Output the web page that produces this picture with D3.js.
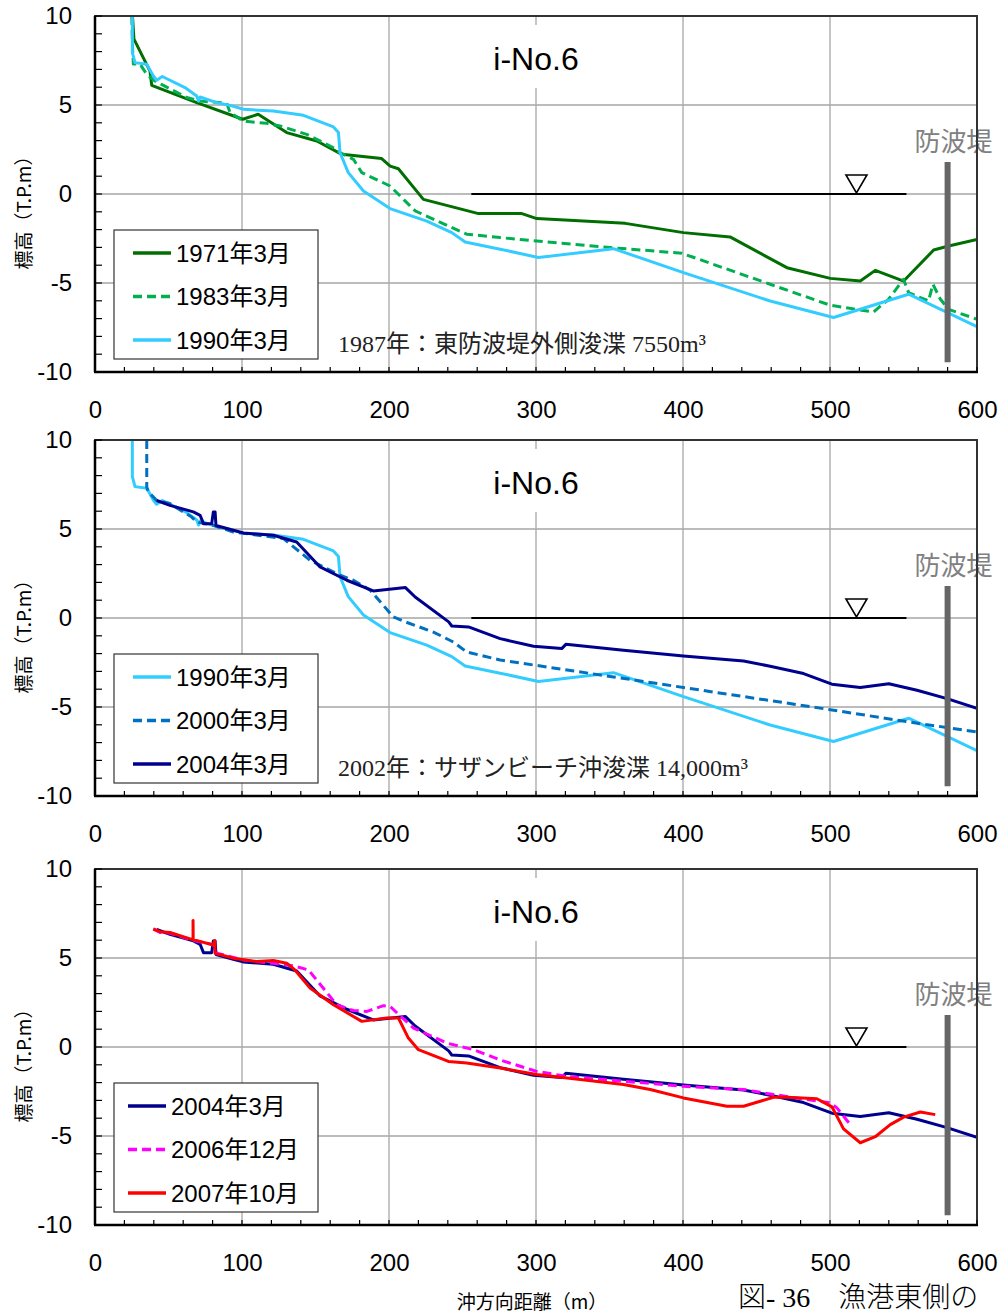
<!DOCTYPE html>
<html>
<head>
<meta charset="utf-8">
<script src="https://d3js.org/d3.v7.min.js"></script>
<style>
  body { margin: 0; background: #fff; }
  svg { display: block; }
</style>
</head>
<body>
<svg id="svg" width="999" height="1313"></svg>
<script>
// ---- data (distance m, elevation T.P.m) ----
const s1971 = [[25.5,10],[26.5,8.7],[37.4,6.9],[38.6,6.1],[69.2,5.13],[100.5,4.2],[111,4.48],[130.4,3.45],[150.9,2.98],[167.9,2.23],[195,1.99],[200.8,1.57],[206.4,1.42],[223.4,-0.3],[260.9,-1.1],[290.4,-1.1],[300.5,-1.38],[360.7,-1.65],[400.3,-2.17],[432,-2.41],[470.7,-4.14],[500.2,-4.74],[520.6,-4.89],[530.8,-4.29],[550.1,-4.89],[570.5,-3.15],[580.7,-2.92],[600,-2.55]];
const s1983 = [[25,10],[25.6,8.1],[26.1,7.3],[30.6,7.3],[35.2,6.72],[40.8,6.35],[46.5,6.1],[62.4,5.42],[71.5,5.22],[89.6,5.1],[91.9,4.57],[100.9,4.1],[116.8,3.97],[125.9,3.82],[144,3.35],[162.2,2.6],[166.7,2.32],[175.8,1.95],[181.5,1.2],[200.7,0.45],[217.8,-0.95],[252.9,-2.26],[275.6,-2.45],[350.5,-3.01],[399.2,-3.33],[459.3,-5.07],[500.2,-6.25],[529.6,-6.63],[540,-5.9],[550,-4.79],[553.5,-5.54],[567,-6.01],[570,-5.07],[575,-5.9],[580.7,-6.48],[600,-7.04]];
const s1990 = [[25.4,10],[25.4,7.94],[27.2,7.38],[35.2,7.29],[39.7,6.63],[41.9,6.39],[45.8,6.6],[61.2,5.98],[69.2,5.51],[70.4,5.22],[71.5,5.45],[82.8,5.13],[91.9,4.98],[101,4.76],[121.3,4.66],[141.8,4.42],[162.2,3.77],[165.6,3.45],[166.7,2.32],[172.3,1.2],[182.6,0.17],[200.7,-0.82],[225.7,-1.52],[242.7,-2.17],[251.8,-2.7],[275.6,-3.1],[301.7,-3.57],[352.7,-3.07],[400.3,-4.42],[459.3,-6.01],[502.4,-6.94],[553.5,-5.63],[600,-7.45]];
const s2000 = [[35.2,10],[35.2,7.36],[36.3,7.08],[41.9,6.61],[51,6.43],[65.8,5.67],[69.2,5.39],[80.5,5.21],[94.1,4.83],[116.8,4.59],[128.2,4.46],[146.3,3.24],[166.7,2.4],[175.8,2.12],[187.2,1.56],[203,0.06],[211.2,-0.22],[230.2,-0.79],[243.8,-1.35],[252.9,-1.91],[275.6,-2.36],[352.7,-3.31],[500.2,-5.15],[553.5,-5.84],[600,-6.4]];
const s2004 = [[42,6.6],[51,6.33],[66.9,5.96],[71.5,5.77],[73.8,5.3],[79.4,5.3],[80.5,5.96],[81.7,5.96],[82.3,5.2],[94.1,4.93],[100.9,4.78],[121.3,4.65],[137.2,4.27],[153.1,2.87],[171.3,2.12],[189.3,1.52],[211.2,1.71],[217.8,1.18],[240.6,-0.22],[242.7,-0.45],[254.1,-0.5],[275.6,-1.16],[298.3,-1.59],[317.5,-1.72],[320.3,-1.48],[359.5,-1.81],[400.3,-2.13],[441.2,-2.42],[459.3,-2.71],[482,-3.12],[501.3,-3.72],[520.6,-3.91],[540,-3.69],[559.2,-4.06],[579.6,-4.53],[600,-5.07]];
const s2006 = [[39.7,6.63],[44.2,6.43],[51,6.4],[65.8,6.0],[80.5,5.75],[82.8,5.27],[101,4.89],[121.3,4.7],[135,4.56],[145.2,4.33],[164.5,2.37],[175.8,2.05],[185,2.0],[196.3,2.32],[200.8,2.28],[207.6,1.75],[216.7,1.06],[239.4,0.22],[257.5,-0.15],[275.6,-0.73],[300.5,-1.37],[321,-1.65],[400.3,-2.21],[441.2,-2.39],[461.6,-2.67],[500.2,-3.14],[504.7,-3.42],[513.8,-4.36]];
const s2007 = [[39.7,6.63],[44.2,6.48],[51,6.43],[65.8,6.05],[66.7,6.05],[66.7,7.1],[66.8,6.03],[80.5,5.73],[81.5,5.98],[81.7,5.27],[94.1,4.99],[110,4.8],[121.3,4.86],[130.4,4.71],[136,4.33],[146.3,3.31],[162.2,2.37],[181.5,1.44],[198.5,1.63],[206.4,1.63],[213.2,0.5],[220,-0.15],[240.4,-0.81],[252.9,-0.9],[275.6,-1.18],[300.5,-1.55],[359.5,-2.11],[377.7,-2.39],[400.3,-2.86],[429.9,-3.33],[441.2,-3.33],[461.6,-2.82],[470.7,-2.82],[491.1,-2.91],[501.3,-3.36],[509.2,-4.6],[520.6,-5.38],[530.8,-5.04],[541,-4.36],[550.1,-3.94],[561.5,-3.65],[571.6,-3.8]];

const xTicks = [0, 100, 200, 300, 400, 500, 600];
const yTicks = [-10, -5, 0, 5, 10];
const panelTitle = "i-No.6";
const notes = ["1987年：東防波堤外側浚渫 7550m³", "2002年：サザンビーチ沖浚渫 14,000m³", null];
const seaLevelX = [256, 552];   // H.W.L line extent
const seaMarkX = 518;           // ▽ position
const breakwaterX = 580;
const breakwaterY = [1.8, -9.45];

// ---- layout ----
const svg = d3.select('#svg');
const left = 95, right = 977, plotH = 356;
const sans = '"Liberation Sans", Arial, "Noto Sans CJK JP", sans-serif';
const serif = '"Liberation Serif", "Times New Roman", "Noto Sans CJK JP", serif';

const x = d3.scaleLinear().domain([0, 600]).range([left, right]);

const panels = [
  {top: 16, legX: 133, series: [
    {name: '1971年3月', data: s1971, color: '#006E00', dash: null},
    {name: '1983年3月', data: s1983, color: '#00B050', dash: '9,5'},
    {name: '1990年3月', data: s1990, color: '#33CCFF', dash: null}], note: notes[0]},
  {top: 440, legX: 133, series: [
    {name: '1990年3月', data: s1990, color: '#33CCFF', dash: null},
    {name: '2000年3月', data: s2000, color: '#0070C0', dash: '9,5'},
    {name: '2004年3月', data: s2004, color: '#00008F', dash: null}], note: notes[1]},
  {top: 869, legX: 128, series: [
    {name: '2004年3月', data: s2004, color: '#00008F', dash: null},
    {name: '2006年12月', data: s2006, color: '#FF00FF', dash: '9,5'},
    {name: '2007年10月', data: s2007, color: '#FF0000', dash: null}], note: notes[2]}
];

function drawPanel(p, idx) {
  const top = p.top, bottom = top + plotH;
  const y = d3.scaleLinear().domain([-10, 10]).range([bottom, top]);
  const g = svg.append('g').attr('class', 'panel');

  // grid
  g.selectAll('.gx').data(xTicks).enter().append('line')
    .attr('x1', d => x(d)).attr('x2', d => x(d)).attr('y1', top).attr('y2', bottom)
    .attr('stroke', '#A6A6A6').attr('stroke-width', 1.3);
  g.selectAll('.gy').data(yTicks).enter().append('line')
    .attr('x1', left).attr('x2', right).attr('y1', d => y(d)).attr('y2', d => y(d))
    .attr('stroke', '#A6A6A6').attr('stroke-width', 1.3);

  // title with white box behind
  const tbox = g.append('rect').attr('fill', '#fff');
  const title = g.append('text').text(panelTitle)
    .attr('x', 536).attr('y', top + 54)
    .attr('text-anchor', 'middle').attr('font-family', sans).attr('font-size', 32);
  const bb = title.node().getBBox();
  tbox.attr('x', bb.x - 14).attr('y', top + 9).attr('width', bb.width + 28).attr('height', 63);

  // sea level and ▽
  g.append('line')
    .attr('x1', x(seaLevelX[0])).attr('x2', x(seaLevelX[1]))
    .attr('y1', y(0)).attr('y2', y(0))
    .attr('stroke', '#000').attr('stroke-width', 2.2);
  const tx = x(seaMarkX), ty = y(0);
  g.append('path')
    .attr('d', `M${tx - 10.5},${ty - 19} L${tx + 10.5},${ty - 19} L${tx},${ty - 1} Z`)
    .attr('fill', '#fff').attr('stroke', '#000').attr('stroke-width', 1.6);

  // series
  const clipId = 'clip' + idx;
  svg.append('clipPath').attr('id', clipId).append('rect')
    .attr('x', left).attr('y', top).attr('width', right - left).attr('height', plotH);
  const line = d3.line().x(d => x(d[0])).y(d => y(d[1]));
  g.append('g').attr('clip-path', `url(#${clipId})`)
    .selectAll('path').data(p.series).enter().append('path')
    .attr('d', d => line(d.data))
    .attr('fill', 'none')
    .attr('stroke', d => d.color)
    .attr('stroke-width', 3)
    .attr('stroke-linejoin', 'round')
    .attr('stroke-dasharray', d => d.dash);

  // breakwater
  g.append('line')
    .attr('x1', x(breakwaterX)).attr('x2', x(breakwaterX))
    .attr('y1', y(breakwaterY[0])).attr('y2', y(breakwaterY[1]))
    .attr('stroke', '#666').attr('stroke-width', 6);
  g.append('text').text('防波堤')
    .attr('x', x(breakwaterX) + 6).attr('y', y(breakwaterY[0]) - 11)
    .attr('text-anchor', 'middle').attr('font-family', serif)
    .attr('font-size', 26).attr('fill', '#808080');

  // frame and axes
  g.append('rect').attr('x', left).attr('y', top).attr('width', right - left).attr('height', plotH)
    .attr('fill', 'none').attr('stroke', '#333').attr('stroke-width', 2);
  g.append('line').attr('x1', left).attr('x2', left).attr('y1', top).attr('y2', bottom)
    .attr('stroke', '#000').attr('stroke-width', 2.5);
  g.append('line').attr('x1', left - 1).attr('x2', right + 1).attr('y1', bottom).attr('y2', bottom)
    .attr('stroke', '#000').attr('stroke-width', 2.5);

  // minor ticks (inward)
  g.selectAll('.ty').data(d3.range(-10, 11, 1)).enter().append('line')
    .attr('x1', left).attr('x2', left + 7).attr('y1', d => y(d)).attr('y2', d => y(d))
    .attr('stroke', '#000').attr('stroke-width', 1.2);
  g.selectAll('.tx').data(d3.range(0, 601, 20)).enter().append('line')
    .attr('x1', d => x(d)).attr('x2', d => x(d)).attr('y1', bottom).attr('y2', bottom - 5)
    .attr('stroke', '#000').attr('stroke-width', 1.2);

  // axis labels via d3 axes
  const fmt = d => String(d);
  const ax = g.append('g').attr('transform', `translate(0,${bottom})`)
    .call(d3.axisBottom(x).tickValues(xTicks).tickSize(0).tickPadding(29).tickFormat(fmt));
  const ay = g.append('g').attr('transform', `translate(${left},0)`)
    .call(d3.axisLeft(y).tickValues(yTicks).tickSize(0).tickPadding(23).tickFormat(fmt));
  [ax, ay].forEach(a => {
    a.select('.domain').remove();
    a.selectAll('text').attr('font-family', sans).attr('font-size', 24).attr('fill', '#000');
  });

  g.append('text').text('標高（T.P.m）')
    .attr('transform', `translate(22,${top + 192}) rotate(-90)`)
    .attr('text-anchor', 'middle').attr('dominant-baseline', 'central')
    .attr('font-family', '"Noto Sans CJK JP", sans-serif').attr('font-size', 19);

  // legend
  const lg = g.append('g');
  lg.append('rect').attr('x', 114).attr('y', top + 214).attr('width', 204).attr('height', 129)
    .attr('fill', '#fff').attr('stroke', '#333').attr('stroke-width', 1.2);
  p.series.forEach((s, i) => {
    const ly = top + 214 + 23 + i * 43.5;
    lg.append('line').attr('x1', p.legX).attr('x2', p.legX + 38).attr('y1', ly).attr('y2', ly)
      .attr('stroke', s.color).attr('stroke-width', 3.5).attr('stroke-dasharray', s.dash);
    lg.append('text').text(s.name).attr('x', p.legX + 43).attr('y', ly)
      .attr('dominant-baseline', 'central')
      .attr('font-family', sans).attr('font-size', 24);
  });

  if (p.note) {
    g.append('text').text(p.note)
      .attr('x', 338).attr('y', top + 336)
      .attr('font-family', serif).attr('font-size', 24).attr('fill', '#222');
  }
}

panels.forEach(drawPanel);

svg.append('text').text('沖方向距離（m）')
  .attr('x', 532).attr('y', 1300).attr('text-anchor', 'middle').attr('dominant-baseline', 'central')
  .attr('font-family', '"Noto Sans CJK JP", sans-serif').attr('font-size', 19);
svg.append('text').text('図- 36　漁港東側の')
  .attr('x', 738).attr('y', 1307)
  .attr('font-family', serif).attr('font-weight', 300).attr('font-size', 28);
</script>
</body>
</html>
